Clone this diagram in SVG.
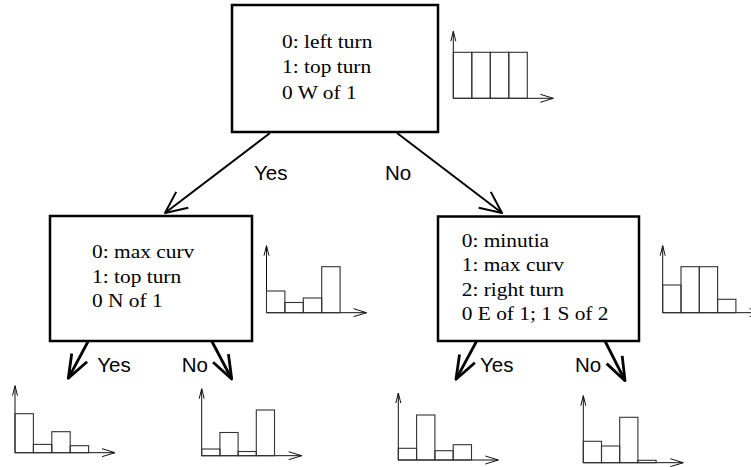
<svg xmlns="http://www.w3.org/2000/svg" width="751" height="467" viewBox="0 0 751 467">
  <style>
    .box { fill: #fff; stroke: #000; stroke-width: 2.5; }
    .rule { font-family: "Liberation Serif", "Times New Roman", serif; font-size: 18.3px; fill: #000; }
    .ans { font-family: "Liberation Sans", Arial, Helvetica, sans-serif; font-size: 20.5px; fill: #000; }
    .edge { fill: none; stroke: #000; stroke-width: 2; }
    .edge.thick { stroke-width: 2.8; }
    .axis { fill: none; stroke: #111; stroke-width: 1; }
    .bar { fill: none; stroke: #333; stroke-width: 1.1; }
  </style>
  <defs>
    <!-- open arrowheads for the decision edges -->
    <marker id="vee" markerUnits="userSpaceOnUse" markerWidth="60" markerHeight="60" viewBox="-30 -30 60 60" refX="0" refY="0" orient="auto" overflow="visible">
      <path d="M-21.7,-10 L0,0 L-21.7,10" fill="none" stroke="#000" stroke-width="2" stroke-linejoin="round"/>
    </marker>
    <marker id="veeBold" markerUnits="userSpaceOnUse" markerWidth="60" markerHeight="60" viewBox="-30 -30 60 60" refX="0" refY="0" orient="auto" overflow="visible">
      <path d="M-23.5,-8.7 L0,0 L-23.5,8.7" fill="none" stroke="#000" stroke-width="2.8" stroke-linejoin="round"/>
    </marker>
    <!-- histogram axes: origin at (0,0) -->
    <g id="axes">
      <path class="axis" d="M0,0 V-67 M-2.5,-57 L0,-67 L2.5,-57 M0,0 H100 M87,-4 L100,0 L87,4"/>
    </g>
  </defs>

  <!-- decision nodes -->
  <g id="node-root">
    <rect class="box" x="232" y="5" width="206" height="127"/>
    <g transform="translate(282,0) scale(1.17,1)">
      <text class="rule" x="0" y="48.3">0: left turn</text>
      <text class="rule" x="0" y="73.5">1: top turn</text>
      <text class="rule" x="0" y="98.7">0 W of 1</text>
    </g>
  </g>
  <g id="node-yes">
    <rect class="box" x="50" y="216" width="202" height="125"/>
    <g transform="translate(92,0) scale(1.17,1)">
      <text class="rule" x="0" y="258.3">0: max curv</text>
      <text class="rule" x="0" y="283">1: top turn</text>
      <text class="rule" x="0" y="307.5">0 N of 1</text>
    </g>
  </g>
  <g id="node-no">
    <rect class="box" x="438" y="216.5" width="201" height="124.5"/>
    <g transform="translate(461.7,0) scale(1.17,1)">
      <text class="rule" x="0" y="247">0: minutia</text>
      <text class="rule" x="0" y="271.3">1: max curv</text>
      <text class="rule" x="0" y="295.8">2: right turn</text>
      <text class="rule" x="0" y="320.5">0 E of 1; 1 S of 2</text>
    </g>
  </g>

  <!-- histograms -->
  <g id="hist-root" transform="translate(453.3,98.3)">
    <use href="#axes"/>
    <rect class="bar" x="0" y="-46" width="18.5" height="46"/>
    <rect class="bar" x="18.5" y="-46" width="18.5" height="46"/>
    <rect class="bar" x="37" y="-46" width="18.5" height="46"/>
    <rect class="bar" x="55.5" y="-46" width="18.5" height="46"/>
  </g>
  <g id="hist-yes" transform="translate(266.5,312.7)">
    <use href="#axes"/>
    <rect class="bar" x="0" y="-21.7" width="18.4" height="21.7"/>
    <rect class="bar" x="18.4" y="-10.2" width="18.4" height="10.2"/>
    <rect class="bar" x="36.8" y="-14.7" width="18.4" height="14.7"/>
    <rect class="bar" x="55.2" y="-46" width="18.4" height="46"/>
  </g>
  <g id="hist-no" transform="translate(662.7,312.7)">
    <use href="#axes"/>
    <rect class="bar" x="0" y="-27.7" width="18.3" height="27.7"/>
    <rect class="bar" x="18.3" y="-46" width="18.3" height="46"/>
    <rect class="bar" x="36.6" y="-46" width="18.3" height="46"/>
    <rect class="bar" x="54.9" y="-13.4" width="18.3" height="13.4"/>
  </g>
  <g id="hist-yes-yes" transform="translate(15,452.7)">
    <use href="#axes"/>
    <rect class="bar" x="0" y="-39" width="18.4" height="39"/>
    <rect class="bar" x="18.4" y="-8.3" width="18.4" height="8.3"/>
    <rect class="bar" x="36.8" y="-21" width="18.4" height="21"/>
    <rect class="bar" x="55.2" y="-7" width="18.4" height="7"/>
  </g>
  <g id="hist-yes-no" transform="translate(201.7,455.7)">
    <use href="#axes"/>
    <rect class="bar" x="0" y="-6.7" width="18.2" height="6.7"/>
    <rect class="bar" x="18.2" y="-23.2" width="18.2" height="23.2"/>
    <rect class="bar" x="36.4" y="-4.2" width="18.2" height="4.2"/>
    <rect class="bar" x="54.6" y="-45.7" width="18.2" height="45.7"/>
  </g>
  <g id="hist-no-yes" transform="translate(398.3,460)">
    <use href="#axes"/>
    <rect class="bar" x="0" y="-11.7" width="18.3" height="11.7"/>
    <rect class="bar" x="18.3" y="-45" width="18.3" height="45"/>
    <rect class="bar" x="36.6" y="-9.3" width="18.3" height="9.3"/>
    <rect class="bar" x="54.9" y="-15.3" width="18.3" height="15.3"/>
  </g>
  <g id="hist-no-no" transform="translate(583.3,462.7)">
    <use href="#axes"/>
    <rect class="bar" x="0" y="-21.4" width="18.2" height="21.4"/>
    <rect class="bar" x="18.2" y="-16.7" width="18.2" height="16.7"/>
    <rect class="bar" x="36.4" y="-45.4" width="18.2" height="45.4"/>
    <rect class="bar" x="54.6" y="-2.4" width="18.2" height="2.4"/>
  </g>

  <!-- connectors -->
  <g id="connectors">
    <path class="edge" d="M270,133 L165,213" marker-end="url(#vee)"/>
    <path class="edge" d="M397,133 L502,213" marker-end="url(#vee)"/>
    <path class="edge thick" d="M88.3,341 L68.3,378.3" marker-end="url(#veeBold)"/>
    <path class="edge thick" d="M211.7,341 L231.7,379" marker-end="url(#veeBold)"/>
    <path class="edge thick" d="M476.7,341 L456,379.3" marker-end="url(#veeBold)"/>
    <path class="edge thick" d="M605,341 L625,380.7" marker-end="url(#veeBold)"/>
    <text class="ans" x="254" y="180">Yes</text>
    <text class="ans" x="385" y="180">No</text>
    <text class="ans" x="97.3" y="372">Yes</text>
    <text class="ans" x="181.7" y="372">No</text>
    <text class="ans" x="480" y="372">Yes</text>
    <text class="ans" x="575" y="372">No</text>
  </g>
</svg>
